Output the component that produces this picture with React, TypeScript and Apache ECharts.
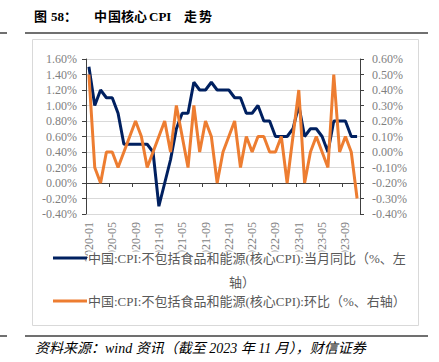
import React, { useEffect, useRef } from "react";
import * as echarts from "echarts";

const months = [
  "2020-01","2020-02","2020-03","2020-04","2020-05","2020-06","2020-07","2020-08","2020-09","2020-10","2020-11","2020-12",
  "2021-01","2021-02","2021-03","2021-04","2021-05","2021-06","2021-07","2021-08","2021-09","2021-10","2021-11","2021-12",
  "2022-01","2022-02","2022-03","2022-04","2022-05","2022-06","2022-07","2022-08","2022-09","2022-10","2022-11","2022-12",
  "2023-01","2023-02","2023-03","2023-04","2023-05","2023-06","2023-07","2023-08","2023-09","2023-10","2023-11",
];

// 当月同比 (%, left axis)
const coreYoY = [
  1.5, 1.0, 1.2, 1.1, 1.1, 0.9, 0.5, 0.5, 0.5, 0.5, 0.5, 0.4,
  -0.3, 0.0, 0.3, 0.7, 0.9, 0.9, 1.3, 1.2, 1.2, 1.3, 1.2, 1.2,
  1.2, 1.1, 1.1, 0.9, 0.9, 1.0, 0.8, 0.8, 0.6, 0.6, 0.6, 0.7,
  1.0, 0.6, 0.7, 0.7, 0.6, 0.4, 0.8, 0.8, 0.8, 0.6, 0.6,
];

// 环比 (%, right axis)
const coreMoM = [
  0.5, -0.1, -0.2, 0.0, 0.0, -0.1, 0.0, 0.1, 0.2, 0.1, -0.1, 0.0,
  0.1, 0.2, 0.0, 0.3, 0.1, -0.1, 0.3, 0.0, 0.2, 0.1, -0.2, 0.0,
  0.1, 0.2, -0.1, 0.1, 0.0, 0.1, 0.1, 0.0, 0.0, 0.1, -0.2, 0.1,
  0.4, -0.2, 0.0, 0.1, 0.0, -0.1, 0.5, 0.0, 0.1, 0.0, -0.3,
];

const seriesNames = [
  "中国:CPI:不包括食品和能源(核心CPI):当月同比（%、左轴）",
  "中国:CPI:不包括食品和能源(核心CPI):环比（%、右轴）",
];
const legendLine1 = "中国:CPI:不包括食品和能源(核心CPI):当月同比（%、左";
const legendLine1b = "轴）";
const legendLine2 = "中国:CPI:不包括食品和能源(核心CPI):环比（%、右轴）";

const titleParts = ["图", "58：", "中", "国", "核", "心", "CPI", "走", "势"];
const sourceText = "资料来源：wind 资讯（截至 2023 年 11 月），财信证券";

const NAVY = "#002060";
const ORANGE = "#ED7D31";
const SERIF_CJK = "'Liberation Serif', 'Noto Sans CJK SC', serif";

export default function App() {
  const ref = useRef<HTMLDivElement>(null);

  useEffect(() => {
    if (!ref.current) return;
    const chart = echarts.init(ref.current, null, { renderer: "svg" });
    const pct = (v: number) => v.toFixed(2) + "%";
    const titleX = [34, 51, 94, 108, 121, 134, 149, 184, 199];
    const titleEls = titleParts.map((t, i) => ({
      type: "text",
      x: titleX[i],
      y: 16,
      style: {
        text: t,
        fill: "#000000",
        font: "bold 13px " + SERIF_CJK,
        verticalAlign: "middle",
      },
    }));
    chart.setOption({
      animation: false,
      backgroundColor: "#ffffff",
      grid: { left: 86, right: 79, top: 59, bottom: 148, containLabel: false },
      xAxis: {
        type: "category",
        data: months,
        boundaryGap: true,
        axisLine: { onZero: true, lineStyle: { color: "#404040", width: 1 } },
        axisTick: { show: true, interval: 3, length: 4, lineStyle: { color: "#404040" } },
        axisLabel: {
          interval: 3,
          rotate: 90,
          margin: 8,
          color: "#7f7f7f",
          fontSize: 12,
          fontFamily: "'Liberation Serif', serif",
        },
        splitLine: { show: false },
      },
      yAxis: [
        {
          type: "value",
          min: -0.4,
          max: 1.6,
          interval: 0.2,
          position: "left",
          axisLine: { show: true, lineStyle: { color: "#404040", width: 1 } },
          axisTick: { show: true, length: 4, lineStyle: { color: "#404040" } },
          axisLabel: {
            formatter: pct,
            margin: 9,
            color: "#7f7f7f",
            fontSize: 12,
            fontFamily: "'Liberation Serif', serif",
          },
          splitLine: { show: true, lineStyle: { color: "#d9d9d9", width: 1 } },
        },
        {
          type: "value",
          min: -0.4,
          max: 0.6,
          interval: 0.1,
          position: "right",
          axisLine: { show: true, lineStyle: { color: "#404040", width: 1 } },
          axisTick: { show: true, length: 4, lineStyle: { color: "#404040" } },
          axisLabel: {
            formatter: pct,
            margin: 12,
            color: "#7f7f7f",
            fontSize: 12,
            fontFamily: "'Liberation Serif', serif",
          },
          splitLine: { show: false },
        },
      ],
      series: [
        {
          name: seriesNames[0],
          type: "line",
          yAxisIndex: 0,
          data: coreYoY,
          showSymbol: false,
          symbol: "none",
          lineStyle: { color: NAVY, width: 3 },
          itemStyle: { color: NAVY },
          z: 3,
        },
        {
          name: seriesNames[1],
          type: "line",
          yAxisIndex: 1,
          data: coreMoM,
          showSymbol: false,
          symbol: "none",
          lineStyle: { color: ORANGE, width: 3 },
          itemStyle: { color: ORANGE },
          z: 4,
        },
      ],
      graphic: [
        {
          type: "rect",
          z: -10,
          silent: true,
          shape: { x: 32.5, y: 39.5, width: 386, height: 286 },
          style: { fill: "none", stroke: "#d9d9d9", lineWidth: 1 },
        },
        ...titleEls,
        { type: "line", shape: { x1: 25, y1: 33, x2: 428, y2: 33 }, style: { stroke: "#404040", lineWidth: 1.5 } },
        { type: "line", shape: { x1: 0, y1: 33, x2: 7, y2: 33 }, style: { stroke: "#404040", lineWidth: 1.5 } },
        { type: "line", shape: { x1: 25, y1: 336, x2: 428, y2: 336 }, style: { stroke: "#404040", lineWidth: 1.5 } },
        { type: "line", shape: { x1: 0, y1: 336, x2: 7, y2: 336 }, style: { stroke: "#404040", lineWidth: 1.5 } },
        {
          type: "text",
          x: 35,
          y: 348,
          style: {
            text: sourceText,
            fill: "#000000",
            font: "italic 14px " + SERIF_CJK,
            verticalAlign: "middle",
          },
        },
        // legend
        { type: "line", z: 50, shape: { x1: 53, y1: 258, x2: 87, y2: 258 }, style: { stroke: NAVY, lineWidth: 3 } },
        {
          type: "text",
          z: 100,
          x: 88,
          y: 258,
          style: {
            text: legendLine1,
            fill: "#595959",
            font: "13px " + SERIF_CJK,
            verticalAlign: "middle",
            backgroundColor: "#ffffff",
          },
        },
        {
          type: "text",
          z: 100,
          x: 242,
          y: 282,
          style: {
            text: legendLine1b,
            fill: "#595959",
            font: "13px " + SERIF_CJK,
            align: "center",
            verticalAlign: "middle",
          },
        },
        { type: "line", z: 50, shape: { x1: 53, y1: 301, x2: 87, y2: 301 }, style: { stroke: ORANGE, lineWidth: 3 } },
        {
          type: "text",
          z: 100,
          x: 88,
          y: 301,
          style: {
            text: legendLine2,
            fill: "#595959",
            font: "13px " + SERIF_CJK,
            verticalAlign: "middle",
          },
        },
      ],
    });
    return () => chart.dispose();
  }, []);

  return (
    <div
      ref={ref}
      style={{ position: "absolute", left: 0, top: 0, width: 439, height: 362, background: "#fff" }}
    />
  );
}
